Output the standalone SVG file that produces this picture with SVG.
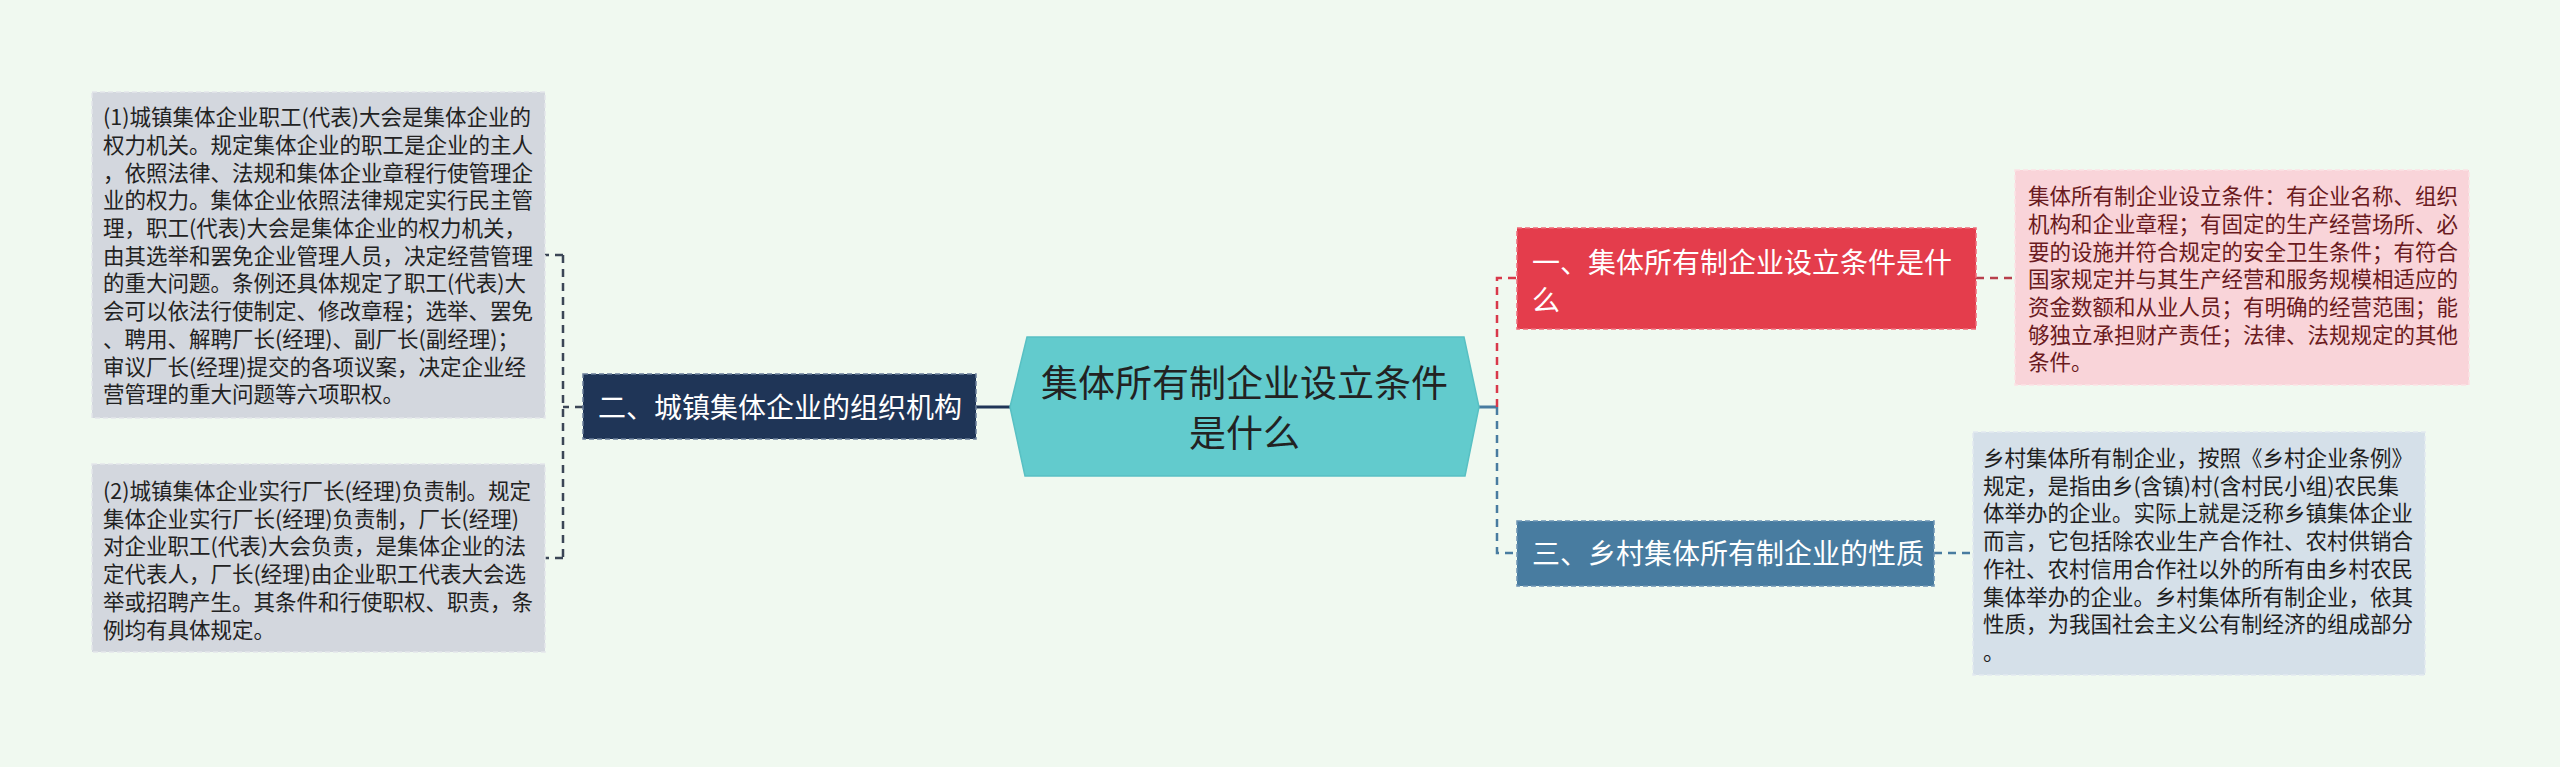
<svg xmlns="http://www.w3.org/2000/svg" width="2560" height="767" viewBox="0 0 2560 767">
<style>
text{font-family:"Noto Sans CJK SC","Microsoft YaHei",sans-serif;}
.leaf{font-size:21.5px;}
.br{font-size:28px;fill:#ffffff;}
.conn{fill:none;stroke-width:2.5;stroke-dasharray:8 6;}
.bd{stroke-width:1.5;stroke-dasharray:5 3;}
</style>
<rect x="0" y="0" width="2560" height="767" fill="#f0f9f0"/>
<g id="connectors">
<path class="conn" d="M583 407 H563 M563 255 V558 M563 255 H545 M563 558 H545" stroke="#3b4656"/>
<path d="M976 407 H1010" stroke="#1f3557" stroke-width="3" fill="none"/>
<path d="M1479 407 H1497" stroke="#487ca0" stroke-width="3" fill="none"/>
<path class="conn" d="M1497 407 V278 H1517" stroke="#d8394a"/>
<path class="conn" d="M1497 407 V553 H1517" stroke="#487ca0"/>
<path class="conn" d="M1976 278 H2015" stroke="#b8404c"/>
<path class="conn" d="M1934 553 H1973" stroke="#487ca0"/>
</g>
<g id="center">
<polygon points="1010,407 1027,337 1464,337 1479,407 1465,476 1025,476" fill="#62cbcd" stroke="#58c0c3" stroke-width="1.5"/>
<text x="1244.5" y="397" font-size="37" fill="#222" text-anchor="middle">集体所有制企业设立条件</text>
<text x="1244.5" y="447" font-size="37" fill="#222" text-anchor="middle">是什么</text>
</g>
<g id="node-left">
<rect class="bd" x="583" y="374" width="393" height="65" fill="#1f3557" stroke="#6a7d99"/>
<text class="br" x="598" y="417.6">二、城镇集体企业的组织机构</text>
</g>
<g id="leaf-left-1">
<rect class="bd" x="92" y="92" width="453" height="326" fill="#d3d7de" stroke="#e3e6ea"/>
<text class="leaf" fill="#222" x="103" y="125.2">
<tspan x="103">(1)城镇集体企业职工(代表)大会是集体企业的</tspan>
<tspan x="103" dy="27.7">权力机关。规定集体企业的职工是企业的主人</tspan>
<tspan x="103" dy="27.7">，依照法律、法规和集体企业章程行使管理企</tspan>
<tspan x="103" dy="27.7">业的权力。集体企业依照法律规定实行民主管</tspan>
<tspan x="103" dy="27.7">理，职工(代表)大会是集体企业的权力机关，</tspan>
<tspan x="103" dy="27.7">由其选举和罢免企业管理人员，决定经营管理</tspan>
<tspan x="103" dy="27.7">的重大问题。条例还具体规定了职工(代表)大</tspan>
<tspan x="103" dy="27.7">会可以依法行使制定、修改章程；选举、罢免</tspan>
<tspan x="103" dy="27.7">、聘用、解聘厂长(经理)、副厂长(副经理)；</tspan>
<tspan x="103" dy="27.7">审议厂长(经理)提交的各项议案，决定企业经</tspan>
<tspan x="103" dy="27.7">营管理的重大问题等六项职权。</tspan>
</text>
</g>
<g id="leaf-left-2">
<rect class="bd" x="92" y="464" width="453" height="188" fill="#d3d7de" stroke="#e3e6ea"/>
<text class="leaf" fill="#222" x="103" y="499">
<tspan x="103">(2)城镇集体企业实行厂长(经理)负责制。规定</tspan>
<tspan x="103" dy="27.7">集体企业实行厂长(经理)负责制，厂长(经理)</tspan>
<tspan x="103" dy="27.7">对企业职工(代表)大会负责，是集体企业的法</tspan>
<tspan x="103" dy="27.7">定代表人，厂长(经理)由企业职工代表大会选</tspan>
<tspan x="103" dy="27.7">举或招聘产生。其条件和行使职权、职责，条</tspan>
<tspan x="103" dy="27.7">例均有具体规定。</tspan>
</text>
</g>
<g id="node-right-1">
<rect class="bd" x="1517" y="228" width="459" height="101" fill="#e43d4c" stroke="#ee6a78"/>
<text class="br" x="1532" y="272.6">一、集体所有制企业设立条件是什</text>
<text class="br" x="1532" y="310.6">么</text>
</g>
<g id="leaf-right-1">
<rect class="bd" x="2015" y="170" width="454" height="215" fill="#f9d4d9" stroke="#fbe2e5"/>
<text class="leaf" fill="#6a1a20" x="2028" y="204.2">
<tspan x="2028">集体所有制企业设立条件：有企业名称、组织</tspan>
<tspan x="2028" dy="27.7">机构和企业章程；有固定的生产经营场所、必</tspan>
<tspan x="2028" dy="27.7">要的设施并符合规定的安全卫生条件；有符合</tspan>
<tspan x="2028" dy="27.7">国家规定并与其生产经营和服务规模相适应的</tspan>
<tspan x="2028" dy="27.7">资金数额和从业人员；有明确的经营范围；能</tspan>
<tspan x="2028" dy="27.7">够独立承担财产责任；法律、法规规定的其他</tspan>
<tspan x="2028" dy="27.7">条件。</tspan>
</text>
</g>
<g id="node-right-2">
<rect class="bd" x="1517" y="521" width="417" height="65" fill="#487ca0" stroke="#6b93b2"/>
<text class="br" x="1532" y="563.6">三、乡村集体所有制企业的性质</text>
</g>
<g id="leaf-right-2">
<rect class="bd" x="1973" y="432" width="452" height="243" fill="#d5e0e9" stroke="#e2e9ef"/>
<text class="leaf" fill="#1e1e1e" x="1983" y="466">
<tspan x="1983">乡村集体所有制企业，按照《乡村企业条例》</tspan>
<tspan x="1983" dy="27.7">规定，是指由乡(含镇)村(含村民小组)农民集</tspan>
<tspan x="1983" dy="27.7">体举办的企业。实际上就是泛称乡镇集体企业</tspan>
<tspan x="1983" dy="27.7">而言，它包括除农业生产合作社、农村供销合</tspan>
<tspan x="1983" dy="27.7">作社、农村信用合作社以外的所有由乡村农民</tspan>
<tspan x="1983" dy="27.7">集体举办的企业。乡村集体所有制企业，依其</tspan>
<tspan x="1983" dy="27.7">性质，为我国社会主义公有制经济的组成部分</tspan>
<tspan x="1983" dy="27.7">。</tspan>
</text>
</g>
</svg>
